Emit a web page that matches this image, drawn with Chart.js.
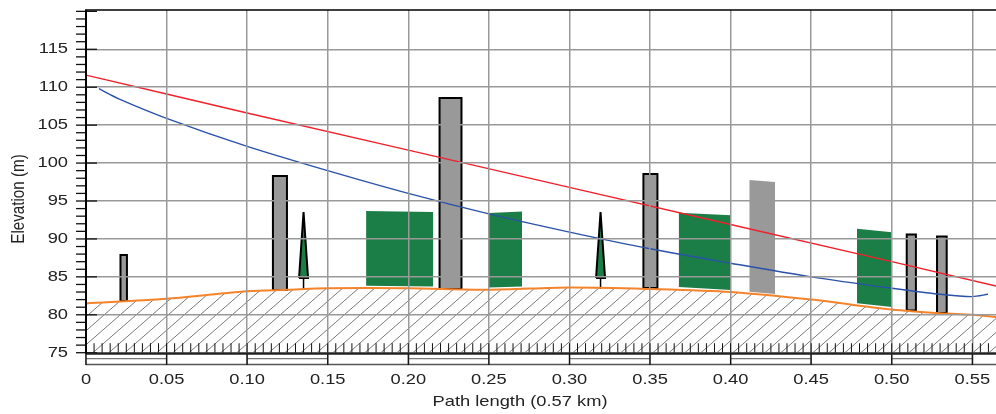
<!DOCTYPE html>
<html><head><meta charset="utf-8">
<style>html,body{margin:0;padding:0;background:#fff}#w{width:996px;height:414px;position:relative}</style>
<script src="https://cdn.jsdelivr.net/npm/chart.js@4"></script></head>
<body><div id="w"><canvas id="c" width="996" height="414"></canvas></div>
<script>
const xTickValues=[0,0.05,0.10,0.15,0.20,0.25,0.30,0.35,0.40,0.45,0.50,0.55];
const xTickLabels=['0','0.05','0.10','0.15','0.20','0.25','0.30','0.35','0.40','0.45','0.50','0.55'];
const yTickValues=[75,80,85,90,95,100,105,110,115];
const xTitle='Path length (0.57 km)';
const yTitle='Elevation (m)';
const terrain=[[0,81.5],[0.05,82.1],[0.08,82.7],[0.10,83.1],[0.125,83.3],[0.15,83.5],[0.20,83.5],[0.25,83.3],[0.30,83.6],[0.35,83.4],[0.40,83.0],[0.45,82.0],[0.50,80.7],[0.53,80.2],[0.55,80.0],[0.5647,79.7]];
const losLine=[[0,111.6],[0.05,109.1],[0.10,106.6],[0.20,101.7],[0.30,96.8],[0.40,91.9],[0.50,87.0],[0.5647,83.8]];
const fresnelLine=[[0.008,109.8],[0.02,108.5],[0.05,105.9],[0.10,102.2],[0.15,99.0],[0.20,96.0],[0.25,93.3],[0.30,90.9],[0.35,88.7],[0.40,86.8],[0.45,85.0],[0.50,83.5],[0.53,82.7],[0.55,82.4],[0.5597,82.7]];
// x-left, x-right, top-left, top-right, bottom-left, bottom-right
const greenBlocks=[[0.1738,0.2155,93.68,93.55,83.83,83.73],[0.2501,0.2706,93.42,93.62,83.6,83.73],[0.3678,0.4001,93.46,93.11,83.66,83.27],[0.4784,0.5002,91.35,90.87,81.51,81.03]];
const greyBlocks=[[0.4116,0.4276,97.77,97.5,83.04,82.74]];
const outlinedBars=[[0.0214,0.0254,87.88,81.82],[0.116,0.1247,98.3,83.27],[0.2194,0.233,108.58,83.4],[0.3459,0.3546,98.56,83.53],[0.5093,0.515,90.58,80.56],[0.5281,0.5341,90.32,80.23]];
// centre x, half width, top, base, trunk bottom
const trees=[[0.135,0.0028,93.55,84.85,83.4],[0.3193,0.0028,93.55,84.85,83.4]];

const pts=a=>a.map(p=>({x:p[0],y:p[1]}));
const tile=document.createElement('canvas');tile.width=16;tile.height=14;
const tc=tile.getContext('2d');tc.strokeStyle='#7a7a7a';tc.lineWidth=1;
tc.beginPath();tc.moveTo(-16,14);tc.lineTo(32,-28);tc.moveTo(-16,28);tc.lineTo(32,-14);tc.stroke();
const hatch=document.getElementById('c').getContext('2d').createPattern(tile,'repeat');

const base={showLine:true,pointRadius:0,borderWidth:0,tension:0};
const ds=[]; // pushed back-to-front, reversed below because Chart.js paints the first dataset last
ds.push({...base,data:pts(terrain),fill:{value:75},backgroundColor:hatch,borderColor:'rgba(0,0,0,0)'});
function block(b,col){
  ds.push({...base,data:[{x:b[0],y:b[4]},{x:b[1],y:b[5]}],fill:false,borderColor:col});
  ds.push({...base,data:[{x:b[0],y:b[2]},{x:b[1],y:b[3]}],fill:'+1',backgroundColor:col,borderColor:col});
}
greenBlocks.forEach(b=>block(b,'#1c7e47'));
greyBlocks.forEach(b=>block(b,'#999999'));
outlinedBars.forEach(b=>{
  block([b[0],b[1],b[2],b[2],b[3],b[3]],'#999999');
  ds.push({...base,borderWidth:2,borderColor:'#000',fill:false,data:[{x:b[0],y:b[3]},{x:b[0],y:b[2]},{x:b[1],y:b[2]},{x:b[1],y:b[3]},{x:b[0],y:b[3]}]});
});
trees.forEach(t=>{
  const l=t[0]-t[1],r=t[0]+t[1];
  ds.push({...base,data:[{x:l,y:t[3]},{x:r,y:t[3]}],fill:false,borderColor:'#1c7e47'});
  ds.push({...base,data:[{x:l,y:t[3]},{x:t[0],y:t[2]},{x:r,y:t[3]}],fill:'+1',backgroundColor:'#1c7e47',borderColor:'#1c7e47'});
  ds.push({...base,borderWidth:2,borderColor:'#000',fill:false,data:[{x:l,y:t[3]},{x:t[0],y:t[2]},{x:r,y:t[3]},{x:l,y:t[3]}]});
  ds.push({...base,borderWidth:1.5,borderColor:'#000',fill:false,data:[{x:t[0],y:t[3]},{x:t[0],y:t[4]}]});
});
ds.push({...base,data:pts(terrain),fill:false,borderWidth:2,borderColor:'#f5832a',tension:0.3});
ds.push({...base,data:pts(fresnelLine),fill:false,borderWidth:1.4,borderColor:'#2a52a8',tension:0.3});
ds.push({...base,data:pts(losLine),fill:false,borderWidth:1.4,borderColor:'#f0202c'});
ds.reverse();

const XMAX=0.5647,YMIN=73.38,YMAX=120.18,WIDEN=1.22;
const chrome={id:'chrome',afterDraw(ch){
  const c=ch.ctx,X=ch.scales.x,Y=ch.scales.y,a=ch.chartArea;
  const y75=Y.getPixelForValue(75),xl=a.left,xr=a.right;
  c.save();
  const line=(x0,y0,x1,y1,col,w)=>{c.strokeStyle=col;c.lineWidth=w;c.beginPath();c.moveTo(x0,y0);c.lineTo(x1,y1);c.stroke();};
  for(let v=75;v<=120;v++){const p=Y.getPixelForValue(v);line(76,p,v%5?87:97,p,'#111',1.3);}
  for(let k=1;k*0.005<XMAX;k++){const p=X.getPixelForValue(k*0.005);line(p,y75-9.5,p,y75,'#111',1);}
  line(xl,a.bottom-0.5,xr,a.bottom-0.5,'#555',1.5);
  for(let k=0;k<xTickValues.length-1;k+=2){line(X.getPixelForValue(xTickValues[k]),y75+6,X.getPixelForValue(xTickValues[k+1]),y75+6,'#555',1);}
  xTickValues.forEach(v=>{const p=X.getPixelForValue(v);line(p,y75,p,a.bottom,'#111',1.3);});
  line(xl,y75+1,xr,y75+1,'#222',2.2);
  line(xl,a.top,xl,y75+1,'#000',2);
  line(xl-1,a.top,xr,a.top,'#000',1.6);
  c.restore();
}};
const noPad=s=>{s.paddingTop=0;s.paddingBottom=0;s.paddingLeft=0;s.paddingRight=0;};
// reference text is Arial-like, widened horizontally: draw each string scaled about its anchor
function widened(ctx,fn,sx,sy){
  const orig=ctx.fillText;
  ctx.fillText=function(t,x,y,...r){ctx.save();ctx.translate(x,y);ctx.scale(sx,sy);orig.call(ctx,t,0,0,...r);ctx.restore();};
  fn();
  delete ctx.fillText;
}
function widenLabels(s){
  if(s._wide)return;s._wide=true;
  const d=s.drawLabels;
  s.drawLabels=function(ca){widened(this.ctx,()=>d.call(this,ca),WIDEN,1);};
}
new Chart(document.getElementById('c'),{
  type:'scatter',
  data:{datasets:ds},
  plugins:[chrome],
  options:{
    responsive:false,animation:false,
    layout:{padding:{top:10,left:0,right:0,bottom:0}},
    plugins:{legend:{display:false},tooltip:{enabled:false}},
    scales:{
      x:{type:'linear',min:0,max:XMAX,
        afterBuildTicks:s=>{s.ticks=xTickValues.map(v=>({value:v}));},
        afterFit:s=>{
          s.height=49;noPad(s);widenLabels(s);
          if(!s._titleShifted){
            s._titleShifted=true;
            const orig=s.drawTitle;
            s.drawTitle=function(){const l=this.left,r=this.right;this.left=l-21;this.right=r-21;widened(this.ctx,()=>orig.call(this),WIDEN,1);this.left=l;this.right=r;};
          }
        },
        grid:{z:1,color:'#999',lineWidth:1.5,drawTicks:false},border:{display:false},
        ticks:{padding:6,maxRotation:0,autoSkip:false,color:'#222',font:{family:'Liberation Sans',size:15},callback:(v)=>{const i=xTickValues.indexOf(v);return i<0?'':xTickLabels[i];}},
        title:{display:true,text:xTitle,color:'#222',font:{family:'Liberation Sans',size:15},padding:{top:3,bottom:3}}},
      y:{type:'linear',min:YMIN,max:YMAX,
        afterBuildTicks:s=>{s.ticks=yTickValues.map(v=>({value:v}));},
        afterFit:s=>{
          s.width=86;noPad(s);widenLabels(s);
          if(!s._titleShifted){
            s._titleShifted=true;
            const orig=s.drawTitle;
            s.drawTitle=function(){const t=this.top,b=this.bottom;this.top=t+11.5;this.bottom=b+11.5;widened(this.ctx,()=>orig.call(this),1,WIDEN);this.top=t;this.bottom=b;};
          }
        },
        grid:{z:1,color:'#999',lineWidth:1.5,drawTicks:false},border:{display:false},
        ticks:{padding:18,color:'#222',font:{family:'Liberation Sans',size:15},callback:v=>String(v)},
        title:{display:true,text:yTitle,color:'#222',font:{family:'Liberation Sans',size:15.2},padding:{top:10,bottom:0}}}
    }
  }
});
</script></body></html>
